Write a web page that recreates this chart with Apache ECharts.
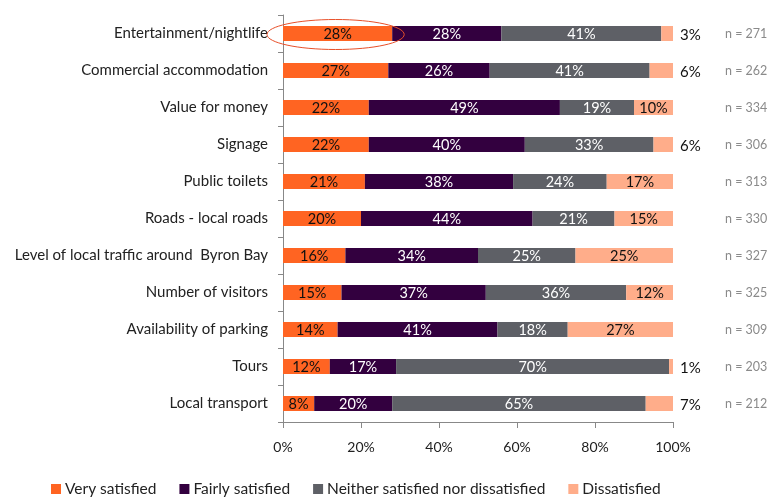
<!DOCTYPE html>
<html>
<head>
<meta charset="utf-8">
<script src="https://cdn.jsdelivr.net/npm/echarts@6/dist/echarts.min.js"></script>
<style>
  html, body { margin: 0; padding: 0; background: #fff; }
  #chart { width: 773px; height: 497px; }
</style>
</head>
<body>
<div id="chart"></div>
<script>
// Satisfaction with visitor services, share of respondents per item
const categories = [
  'Entertainment/nightlife',
  'Commercial accommodation',
  'Value for money',
  'Signage',
  'Public toilets',
  'Roads - local roads',
  'Level of local traffic around  Byron Bay',
  'Number of visitors',
  'Availability of parking',
  'Tours',
  'Local transport'
];
const verySatisfied   = [28, 27, 22, 22, 21, 20, 16, 15, 14, 12, 8];
const fairlySatisfied = [28, 26, 49, 40, 38, 44, 34, 37, 41, 17, 20];
const neither         = [41, 41, 19, 33, 24, 21, 25, 36, 18, 70, 65];
const dissatisfied    = [3, 6, 10, 6, 17, 15, 25, 12, 27, 1, 7];
const sampleSizes     = [271, 262, 334, 306, 313, 330, 327, 325, 309, 203, 212];
const xTicks          = [0, 20, 40, 60, 80, 100];

const seriesNames = ['Very satisfied', 'Fairly satisfied', 'Neither satisfied nor dissatisfied', 'Dissatisfied'];
const colors = ['#FF6422', '#33003F', '#5E6066', '#FFAD8A'];
const labelColors = ['#111', '#fff', '#fff', '#111'];
const FONT = 'Lato';

const chart = echarts.init(document.getElementById('chart'), null, { renderer: 'canvas' });

function makeSeries(name, values, idx) {
  return {
    name: name,
    type: 'bar',
    stack: 'total',
    barWidth: 15,
    itemStyle: { color: colors[idx] },
    label: {
      show: true,
      position: 'inside',
      formatter: p => p.value + '%',
      color: labelColors[idx],
      fontFamily: FONT,
      fontSize: 14.5,
      offset: [0, 1]
    },
    data: values.map(v => {
      // narrow dissatisfied segments get their label beside the bar
      if (idx === 3 && v < 8) {
        return { value: v, label: { position: 'right', distance: 7, fontSize: 15, color: '#111', offset: [0, 2] } };
      }
      return v;
    })
  };
}

const option = {
  animation: false,
  backgroundColor: '#fff',
  grid: { left: 283, right: 100, top: 15, bottom: 75, outerBoundsMode: 'none', containLabel: false },
  legend: {
    left: 46,
    top: 476,
    itemWidth: 10,
    itemHeight: 10,
    itemGap: 23,
    icon: 'rect',
    textStyle: { fontFamily: FONT, fontSize: 15.5, color: '#222', padding: [0, 0, 0, -1] },
    data: seriesNames
  },
  xAxis: {
    type: 'value',
    min: 0,
    max: 100,
    interval: 20,
    axisLine: { show: true, lineStyle: { color: '#888' } },
    axisTick: { show: true, length: 6, lineStyle: { color: '#888' } },
    splitLine: { show: false },
    axisLabel: {
      margin: 18,
      color: '#222',
      fontFamily: FONT,
      fontSize: 14,
      formatter: v => xTicks.includes(v) ? v + '%' : ''
    }
  },
  yAxis: [
    {
      type: 'category',
      inverse: true,
      data: categories,
      axisLine: { show: true, lineStyle: { color: '#888' } },
      axisTick: { show: true, length: 5, lineStyle: { color: '#888' } },
      axisLabel: { margin: 15, color: '#222', fontFamily: FONT, fontSize: 15 }
    },
    {
      type: 'category',
      inverse: true,
      position: 'right',
      data: sampleSizes.map(n => 'n = ' + n),
      axisLine: { show: false },
      axisTick: { show: false },
      axisLabel: { margin: 52, align: 'left', color: '#8a8a8a', fontFamily: FONT, fontSize: 12.5 }
    }
  ],
  series: [
    makeSeries(seriesNames[0], verySatisfied, 0),
    makeSeries(seriesNames[1], fairlySatisfied, 1),
    makeSeries(seriesNames[2], neither, 2),
    makeSeries(seriesNames[3], dissatisfied, 3)
  ]
};

chart.setOption(option);

// Highlight ring around the top "very satisfied" result
const firstStart = chart.convertToPixel({ xAxisIndex: 0, yAxisIndex: 0 }, [0, categories[0]]);
const firstEnd = chart.convertToPixel({ xAxisIndex: 0, yAxisIndex: 0 }, [verySatisfied[0], categories[0]]);
const cx = (firstStart[0] + firstEnd[0]) / 2 - 2;
const rx = (firstEnd[0] - firstStart[0]) / 2 + 14;
chart.setOption({
  graphic: [{
    type: 'ellipse',
    shape: { cx: cx, cy: firstStart[1] + 1, rx: rx, ry: 15 },
    style: { fill: 'none', stroke: '#E8502A', lineWidth: 1 },
    z: 100
  }]
});
</script>
</body>
</html>
